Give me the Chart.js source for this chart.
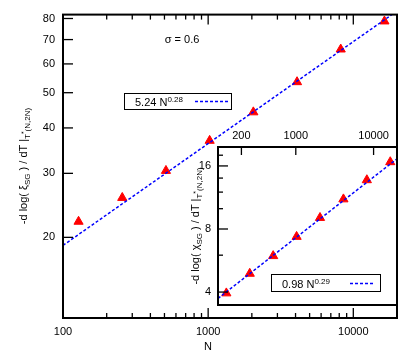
<!DOCTYPE html>
<html><head><meta charset="utf-8">
<script src="https://cdn.jsdelivr.net/npm/chart.js@4"></script>
<style>
body{margin:0;background:#fff;}
#wrap{position:relative;width:415px;height:356px;font-family:"Liberation Sans",Arial,sans-serif;color:#000;overflow:hidden;}
canvas{position:absolute;left:0;top:0;}
.t{position:absolute;font-size:11px;white-space:nowrap;line-height:11px;}
.s{font-size:8px;position:relative;}
.sub{top:3px;}
.sup{top:-4px;}
.box{position:absolute;border:1px solid #000;background:#fff;box-sizing:border-box;}
.rot{transform:translate(-50%,-50%) rotate(-90deg);}
.ctr{transform:translate(-50%,-50%);}
</style></head>
<body>
<div id="wrap">
<canvas id="main" width="415" height="356"></canvas>
<canvas id="inset" width="415" height="356"></canvas>
<div class="t ctr" style="left:182px;top:39px;">σ = 0.6</div>
<div class="t ctr" style="left:208px;top:346px;">N</div>
<div class="t rot" style="left:24px;top:166px;">-d log( ξ<span class="s sub">SG</span> ) / dT |<span class="s sub">T<span class="s sup" style="font-size:7px">*</span>(N,2N)</span></div>
<div class="t rot" style="left:196px;top:226px;">-d log( χ<span class="s sub">SG</span> ) / dT |<span class="s sub">T<span class="s sup" style="font-size:7px">*</span>(N,2N)</span></div>
<div class="box" style="left:124px;top:93px;width:108px;height:17px;"></div>
<div class="t" style="left:135px;top:97px;">5.24 N<span class="s sup">0.28</span></div>
<svg style="position:absolute;left:0;top:0" width="415" height="356"><line x1="195" y1="101.5" x2="228" y2="101.5" stroke="#0000ff" stroke-width="1.5" stroke-dasharray="3,2"/></svg>
<div class="box" style="left:271px;top:274px;width:110px;height:18px;"></div>
<div class="t" style="left:282px;top:279px;">0.98 N<span class="s sup">0.29</span></div>
<svg style="position:absolute;left:0;top:0" width="415" height="356"><line x1="350" y1="283.5" x2="374" y2="283.5" stroke="#0000ff" stroke-width="1.5" stroke-dasharray="3,2"/></svg>
</div>
<script>
// ---- data ----
const N = [128, 256, 512, 1024, 2048, 4096, 8192, 16384];
const xiSlope = [22.1, 25.7, 30.5, 36.9, 44.2, 53.5, 65.8, 78.6];
const chiSlope = [3.95, 4.9, 5.95, 7.35, 9.05, 11.1, 13.7, 16.7];
const mainFitN = [100, 20000];
const mainFitY = [19.0, 83.9];
const insetFitN = [100, 20000];
const insetFitY = [3.73, 17.3];
const mainXTicks = [100, 1000, 10000];
const mainXMinor = [200, 300, 400, 500, 600, 700, 800, 900, 2000, 3000, 4000, 5000, 6000, 7000, 8000, 9000];
const mainYTicks = [20, 30, 40, 50, 60, 70, 80];
const insetXTicks = [200, 1000, 10000];
const insetYTicks = [4, 8, 16];
const insetYMinor = [6, 10, 12, 14, 18];

Chart.defaults.font.family = '"Liberation Sans", Arial, sans-serif';
Chart.defaults.font.size = 11;
Chart.defaults.color = '#000';
Chart.defaults.animation = false;

const pts = (xs, ys) => xs.map((x, i) => ({x: x, y: ys[i]}));
const setTicks = arr => s => { s.ticks = arr.map(v => ({value: v})); };

const frame = {
  id: 'frame',
  beforeDraw(chart, args, o) {
    if (!o.fill) return;
    const a = chart.chartArea, ctx = chart.ctx;
    ctx.save(); ctx.fillStyle = '#fff';
    ctx.fillRect(a.left, a.top, a.right - a.left, a.bottom - a.top);
    ctx.restore();
  },
  afterDraw(chart, args, o) {
    const ctx = chart.ctx, a = chart.chartArea, xs = chart.scales.x, ys = chart.scales.y;
    ctx.save(); ctx.strokeStyle = '#000'; ctx.lineWidth = 1.3;
    const seg = (x1, y1, x2, y2) => { ctx.beginPath(); ctx.moveTo(x1, y1); ctx.lineTo(x2, y2); ctx.stroke(); };
    (o.xBottom || []).forEach(([vals, len]) => vals.forEach(v => { const p = xs.getPixelForValue(v); seg(p, a.bottom, p, a.bottom - len); }));
    (o.xTop || []).forEach(([vals, len]) => vals.forEach(v => { const p = xs.getPixelForValue(v); seg(p, a.top, p, a.top + len); }));
    (o.yLeft || []).forEach(([vals, len]) => vals.forEach(v => { const p = ys.getPixelForValue(v); seg(a.left, p, a.left + len, p); }));
    ctx.lineWidth = 2;
    ctx.strokeRect(a.left, a.top, a.right - a.left, a.bottom - a.top);
    ctx.restore();
  }
};

const pointDs = data => ({
  data: data, showLine: false, pointStyle: 'triangle', pointRadius: 5.3,
  backgroundColor: '#ff0000', borderColor: '#ff0000', borderWidth: 1
});
const fitDs = data => ({
  data: data, showLine: true, borderColor: '#0000ff', borderWidth: 1.5,
  borderDash: [3, 2], pointRadius: 0, fill: false
});

new Chart(document.getElementById('main'), {
  type: 'scatter',
  data: { datasets: [fitDs(pts(mainFitN, mainFitY)), pointDs(pts(N, xiSlope))] },
  options: {
    responsive: false, devicePixelRatio: 1,
    layout: { padding: { top: 14, right: 18, left: 0, bottom: 0 } },
    plugins: { legend: { display: false }, tooltip: { enabled: false },
      frame: { xBottom: [[mainXTicks, 10], [mainXMinor, 5]], xTop: [[mainXTicks, 10], [mainXMinor, 5]], yLeft: [[mainYTicks, 10]] } },
    scales: {
      x: { type: 'logarithmic', position: 'bottom', min: 100, max: 20000,
        afterBuildTicks: setTicks(mainXTicks), afterFit: s => { s.height = 38; },
        grid: { display: false, drawTicks: false }, border: { display: false },
        ticks: { padding: 7, autoSkip: false, maxRotation: 0, callback: v => String(v) } },
      y: { type: 'logarithmic', position: 'left', min: 12, max: 82,
        afterBuildTicks: setTicks(mainYTicks), afterFit: s => { s.width = 63; },
        grid: { display: false, drawTicks: false }, border: { display: false },
        ticks: { padding: 8, autoSkip: false, callback: v => String(v) } }
    }
  },
  plugins: [frame]
});

new Chart(document.getElementById('inset'), {
  type: 'scatter',
  data: { datasets: [fitDs(pts(insetFitN, insetFitY)), pointDs(pts(N, chiSlope))] },
  options: {
    responsive: false, devicePixelRatio: 1,
    layout: { padding: { top: 0, right: 18, left: 0, bottom: 51 } },
    plugins: { legend: { display: false }, tooltip: { enabled: false },
      frame: { fill: true, xTop: [[insetXTicks, 8]], yLeft: [[insetYTicks, 10], [insetYMinor, 5]] } },
    scales: {
      x: { type: 'logarithmic', position: 'top', min: 100, max: 20000,
        afterBuildTicks: setTicks(insetXTicks), afterFit: s => { s.height = 147; },
        grid: { display: false, drawTicks: false }, border: { display: false },
        ticks: { padding: 4, autoSkip: false, maxRotation: 0, callback: v => String(v) } },
      y: { type: 'logarithmic', position: 'left', min: 3.47, max: 19.7,
        afterBuildTicks: setTicks(insetYTicks), afterFit: s => { s.width = 218; },
        grid: { display: false, drawTicks: false }, border: { display: false },
        ticks: { padding: 7, autoSkip: false, callback: v => String(v) } }
    }
  },
  plugins: [frame]
});
</script>
</body></html>
